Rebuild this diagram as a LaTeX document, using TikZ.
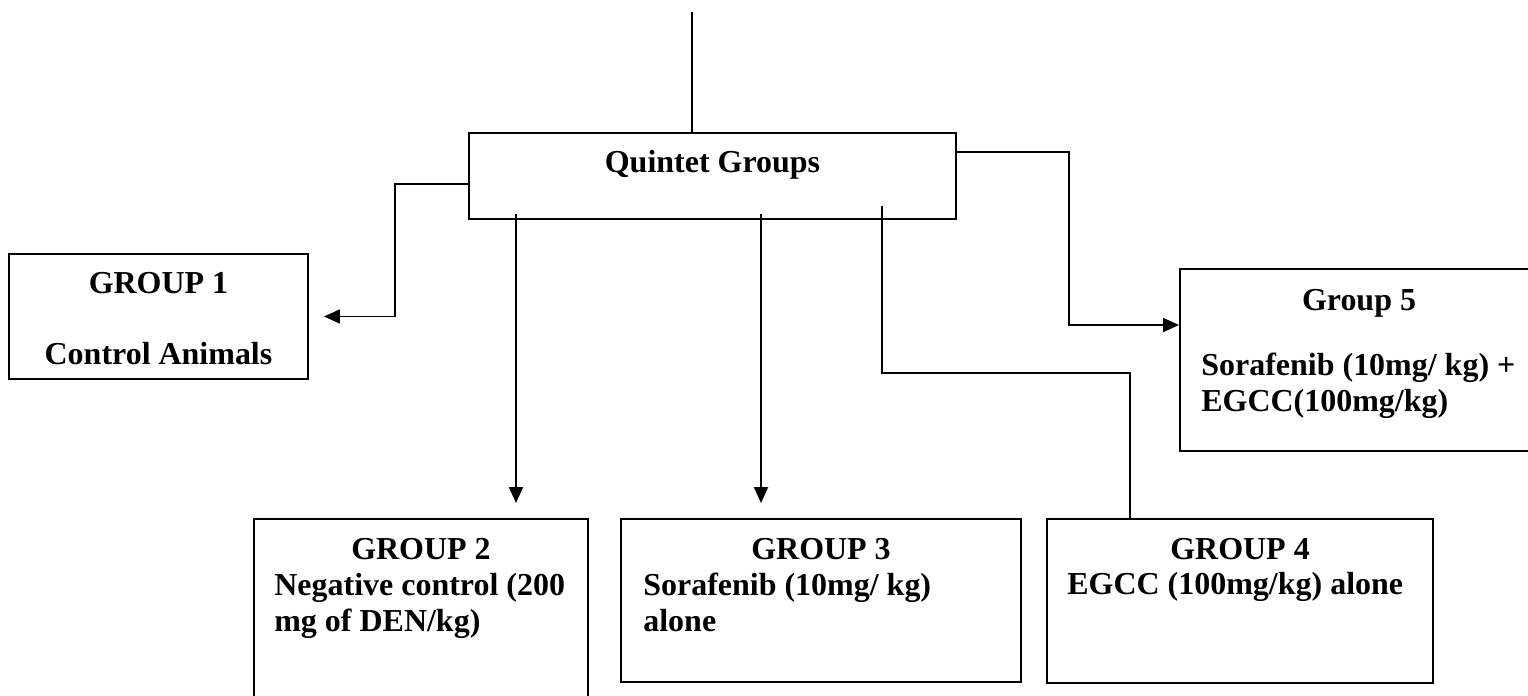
\documentclass[tikz,border=0pt]{standalone}
\usepackage{fontspec}
\setmainfont{Liberation Serif}
\usetikzlibrary{arrows.meta, fit}

\begin{document}
\begin{tikzpicture}[
    x=0.02cm, y=-0.02cm,
    groupbox/.style = {rectangle, draw=black, line width=1.1pt, inner sep=0pt},
    heading/.style  = {inner sep=0pt, anchor=base, font=\fontsize{18.2}{22}\selectfont\bfseries},
    detail/.style   = {inner sep=0pt, anchor=base west, font=\fontsize{18.2}{22}\selectfont\bfseries},
    link/.style     = {line width=1.1pt, black},
    arrow/.style    = {link, -{Triangle[length=0.32cm, width=0.28cm]}},
]
\path[use as bounding box, clip] (0,0) rectangle (1528,696);

% Quintet box
\node[groupbox, fit={(469,133) (956,219)}] (q) {};
\node[heading] (qt) at (712.5,173) {Quintet Groups};

% Groups
\node[groupbox, fit={(9,254) (308,379)}]    (g1) {};
\node[groupbox, fit={(254,519) (588,720)}]  (g2) {};
\node[groupbox, fit={(621,519) (1021,682)}] (g3) {};
\node[groupbox, fit={(1047,519) (1433,683)}] (g4) {};
\node[groupbox, fit={(1180,269) (1539,451)}] (g5) {};

% Texts
\node[heading] (g1a) at (158.5,293) {GROUP 1};
\node[heading] (g1b) at (158.5,364) {Control Animals};

\node[heading] (g2a) at (421,559) {GROUP 2};
\node[detail]  (g2b) at (274,595) {Negative control (200};
\node[detail]  (g2c) at (274,631) {mg of DEN/kg)};

\node[heading] (g3a) at (821,559) {GROUP 3};
\node[detail]  (g3b) at (643,595) {Sorafenib (10mg/ kg)};
\node[detail]  (g3c) at (643,631) {alone};

\node[heading] (g4a) at (1240,559) {GROUP 4};
\node[detail]  (g4b) at (1067,594) {EGCC (100mg/kg) alone};

\node[heading] (g5a) at (1359,310) {Group 5};
\node[detail]  (g5b) at (1201,375) {Sorafenib (10mg/ kg) +};
\node[detail]  (g5c) at (1201,411.5) {EGCC(100mg/kg)};

% Start points of the lines
\coordinate (src) at (692,12);
\coordinate (d2) at (516,214);
\coordinate (d3) at (761,214);
\coordinate (d4) at (882,206);

% Lines
\draw[link] (src) -- (src |- q.north);
\draw[arrow, shorten >=0.3cm] ([yshift=-0.16cm]q.west) -- ++(-73,0) |- (g1.east);
\draw[arrow, shorten >=0.3cm] (d2) -- (d2 |- g2.north);
\draw[arrow, shorten >=0.3cm] (d3) -- (d3 |- g3.north);
\draw[link] (d4) -- ++(0,167) -| ([xshift=-2.2cm]g4.north);
\draw[arrow] ([yshift=0.48cm]q.east) -- ++(112,0) |- ([yshift=0.7cm]g5.west);

\end{tikzpicture}
\end{document}
